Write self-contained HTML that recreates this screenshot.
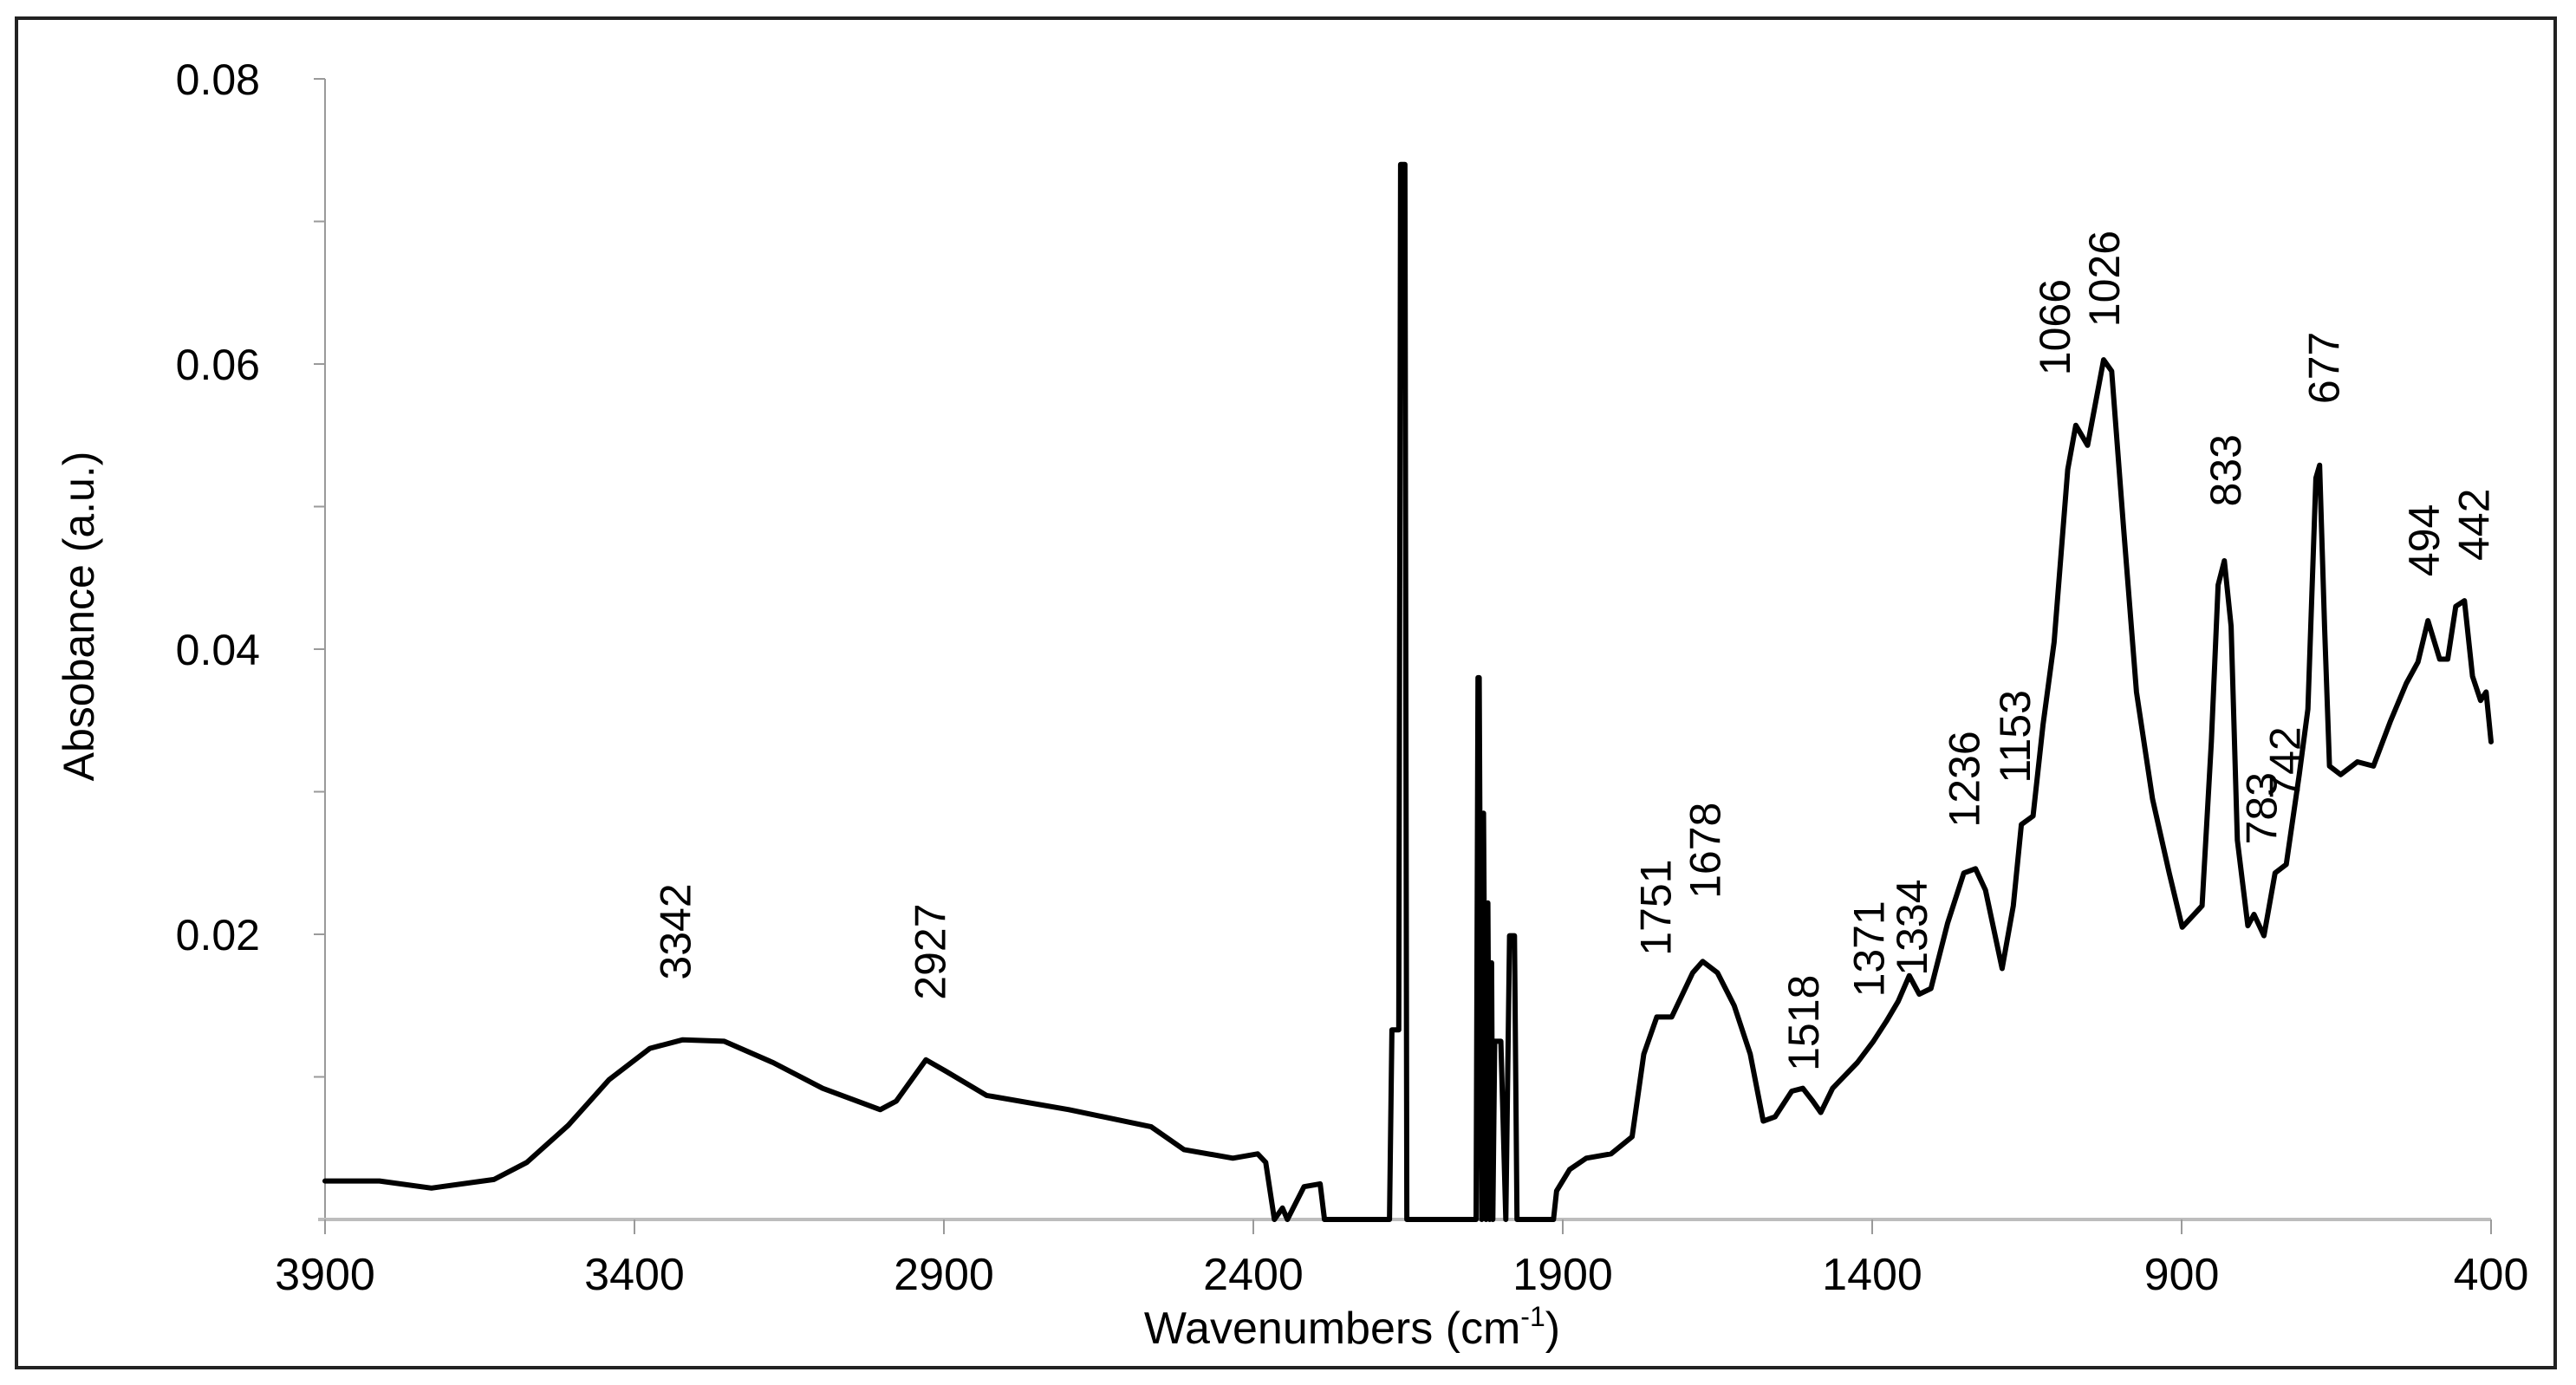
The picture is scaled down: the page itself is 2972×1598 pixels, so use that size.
<!DOCTYPE html>
<html><head><meta charset="utf-8"><style>
html,body{margin:0;padding:0;background:#fff;}
svg{display:block;font-family:"Liberation Sans",Arial,sans-serif;}
</style></head><body>
<svg id="chart" width="2972" height="1598" viewBox="0 0 2972 1598" xmlns="http://www.w3.org/2000/svg">
<rect x="19" y="21" width="2929" height="1557" fill="#fff" stroke="#222" stroke-width="4"/>
<g id="axes"></g>
<g id="series"></g>
<g id="peaks"></g>
<text x="1560" y="1550" font-size="52" text-anchor="middle">Wavenumbers  (cm<tspan font-size="32" dy="-20">-1</tspan><tspan dy="20">)</tspan></text>
<text transform="translate(108,711) rotate(-90)" font-size="50" text-anchor="middle">Absobance (a.u.)</text>
</svg>
<script>
const xTicks=[3900,3400,2900,2400,1900,1400,900,400];
const yTicks=[0.02,0.04,0.06,0.08];
const yMinor=[0.01,0.02,0.03,0.04,0.05,0.06,0.07,0.08];
const wavenumbers=[3900,3812,3728,3627,3574,3507,3441,3375,3322,3255,3176,3096,3003,2977,2929,2897,2831,2698,2565,2512,2433,2393,2380,2366,2353,2345,2318,2292,2285,2275,2180,2176,2173,2165,2162,2155,2152,2040,2037,2035,2031,2028,2024,2021,2018,2015,2013,2010,2000,1992,1986,1978,1974,1970,1915,1910,1889,1862,1822,1788,1769,1748,1724,1690,1674,1650,1623,1597,1576,1557,1530,1512,1496,1483,1464,1424,1398,1377,1358,1340,1324,1305,1278,1252,1233,1217,1190,1172,1159,1140,1124,1106,1084,1071,1052,1026,1013,994,973,947,920,899,867,852,841,831,820,810,793,783,767,749,731,710,696,683,677,669,661,643,616,590,563,537,518,502,483,470,457,443,430,417,408,400];
const absorbance=[0.0027,0.0027,0.0022,0.0028,0.0040,0.0066,0.0098,0.0120,0.0126,0.0125,0.0110,0.0092,0.0077,0.0083,0.0112,0.0104,0.0087,0.0077,0.0065,0.0049,0.0043,0.0046,0.0040,0,0.0008,0,0.0023,0.0025,0,0,0,0.0133,0.0133,0.0133,0.074,0.074,0,0,0.038,0.038,0,0.0285,0,0.0222,0,0.018,0,0.0125,0.0125,0,0.0199,0.0199,0,0,0,0.0020,0.0035,0.0043,0.0046,0.0058,0.0116,0.0142,0.0142,0.0173,0.0181,0.0173,0.0150,0.0116,0.0069,0.0072,0.0090,0.0092,0.0083,0.0075,0.0092,0.0110,0.0125,0.0139,0.0153,0.0171,0.0158,0.0162,0.0208,0.0243,0.0246,0.0231,0.0176,0.0220,0.0277,0.0283,0.0347,0.0405,0.0526,0.0557,0.0543,0.0603,0.0595,0.0486,0.0370,0.0295,0.0243,0.0205,0.0220,0.0335,0.0445,0.0462,0.0416,0.0266,0.0206,0.0214,0.0199,0.0243,0.0249,0.0312,0.0358,0.0520,0.0529,0.0416,0.0318,0.0312,0.0321,0.0318,0.0349,0.0376,0.0391,0.0420,0.0393,0.0393,0.0430,0.0434,0.0381,0.0364,0.0370,0.0335];
const peakLabels=["3342","2927","1751","1678","1518","1371","1334","1236","1153","1066","1026","833","783","742","677","494","442"];
const peakLabelX=[3335,2923,1751,1671,1512,1406,1337,1252,1170,1106,1026,830,772,734,671,509,429];
const peakLabelA=[0.0168,0.0154,0.0185,0.0225,0.0104,0.0156,0.0171,0.0275,0.0306,0.0592,0.0626,0.0500,0.0263,0.0295,0.0572,0.0451,0.0462];

const NS="http://www.w3.org/2000/svg";
const X0=375,X1=2874,Y0=1407,Y1=91;
function xs(w){return X0+(3900-w)/3500*(X1-X0);}
function ys(a){return Y0-a/0.08*(Y0-Y1);}
function mk(tag,attrs,parent){const e=document.createElementNS(NS,tag);for(const k in attrs)e.setAttribute(k,attrs[k]);parent.appendChild(e);return e;}
const axes=document.getElementById('axes');
const ya=mk('line',{x1:X0,y1:Y0,x2:X0,y2:Y1,stroke:'#9a9a9a','stroke-width':2},axes);


yMinor.forEach(v=>{
  const t=mk('line',{x1:X0-13,y1:ys(v),x2:X0,y2:ys(v),stroke:'#9a9a9a','stroke-width':2},axes);
  
  
});
yTicks.forEach(v=>{
  const t=mk('text',{x:300,y:ys(v)+18,'font-size':50,'text-anchor':'end',fill:'#000'},axes);
  t.textContent=v.toFixed(2);
  
  
});
const xa=mk('line',{x1:X0-8,y1:Y0,x2:X1,y2:Y0,stroke:'#bdbdbd','stroke-width':4},axes);


xTicks.forEach(v=>{
  const t=mk('line',{x1:xs(v),y1:Y0,x2:xs(v),y2:Y0+17,stroke:'#9a9a9a','stroke-width':2},axes);
  
  
  const l=mk('text',{x:xs(v),y:Y0+81,'font-size':52,'text-anchor':'middle',fill:'#000'},axes);
  l.textContent=v;
  
  
});
const series=document.getElementById('series');
let d='';
wavenumbers.forEach((w,i)=>{d+=(i?'L':'M')+xs(w).toFixed(1)+','+ys(absorbance[i]).toFixed(1);});
const p=mk('path',{d:d,fill:'none',stroke:'#000','stroke-width':6,'stroke-linejoin':'round','stroke-linecap':'round'},series);


const peaks=document.getElementById('peaks');
peakLabels.forEach((s,i)=>{
  const x=xs(peakLabelX[i])+18,y=ys(peakLabelA[i]);
  const t=mk('text',{transform:'translate('+x.toFixed(1)+','+y.toFixed(1)+') rotate(-90)','font-size':50,fill:'#000'},peaks);
  t.textContent=s;
  
  
});
</script>
</body></html>
